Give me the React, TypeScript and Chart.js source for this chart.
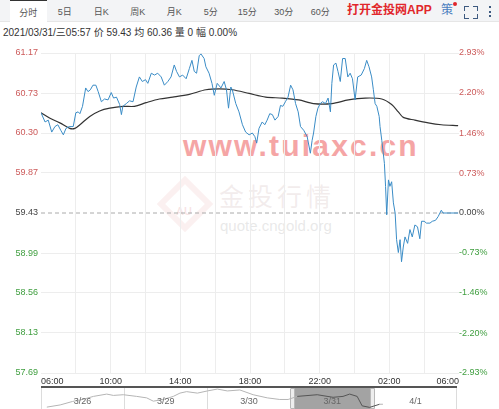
import React, { useEffect, useRef } from 'react';
import { Chart, registerables } from 'chart.js';
Chart.register(...registerables);

const FONT = '"Liberation Sans", Arial, "Noto Sans CJK SC", sans-serif';

// ---- data ----
const tabs = ['分时', '5日', '日K', '周K', '月K', '5分', '15分', '30分', '60分'];
const appText = '打开金投网APP';
const infoText = '2021/03/31/三05:57 价 59.43 均 60.36 量 0 幅 0.00%';
const prevClose = 59.43;

// minutes since 06:00
const priceTimes = [0, 14, 25, 37, 48, 58, 68, 77, 86, 97, 111, 120, 128, 134, 143, 154, 162, 170, 179, 189, 197, 208, 219, 231, 242, 250, 260, 271, 277, 282, 294, 305, 317, 328, 339, 349, 360, 368, 380, 391, 402, 414, 425, 437, 448, 459, 467, 477, 488, 500, 511, 520, 528, 536, 545, 551, 562, 568, 579, 589, 597, 607, 620, 631, 639, 646, 654, 659, 671, 682, 694, 705, 717, 728, 737, 743, 751, 762, 771, 779, 788, 797, 806, 817, 825, 833, 842, 851, 860, 868, 877, 886, 894, 905, 917, 928, 934, 939, 947, 954, 962, 970, 980, 989, 997, 1002, 1008, 1016, 1023, 1031, 1039, 1048, 1057, 1065, 1073, 1082, 1091, 1103, 1114, 1122, 1130, 1139, 1145, 1151, 1157, 1165, 1168, 1174, 1183, 1187, 1191, 1197, 1202, 1208, 1214, 1220, 1225, 1231, 1237, 1242, 1248, 1254, 1263, 1271, 1279, 1288, 1297, 1305, 1311, 1320, 1328, 1340, 1348, 1359, 1368, 1379, 1385, 1437];
const prices = [60.52, 60.42, 60.44, 60.31, 60.37, 60.39, 60.33, 60.28, 60.35, 60.37, 60.37, 60.52, 60.53, 60.51, 60.59, 60.79, 60.75, 60.77, 60.82, 60.82, 60.75, 60.64, 60.67, 60.66, 60.74, 60.68, 60.69, 60.61, 60.50, 60.59, 60.62, 60.65, 60.64, 60.80, 60.91, 60.86, 60.88, 60.84, 60.95, 60.93, 60.95, 60.91, 60.82, 60.86, 60.91, 61.04, 60.97, 60.91, 60.93, 60.89, 61.00, 61.09, 60.97, 60.95, 61.14, 61.16, 61.11, 61.02, 60.95, 60.84, 60.71, 60.84, 60.79, 60.86, 60.77, 60.57, 60.80, 60.77, 60.62, 60.53, 60.39, 60.31, 60.28, 60.30, 60.26, 60.19, 60.35, 60.42, 60.39, 60.44, 60.51, 60.50, 60.44, 60.48, 60.60, 60.59, 60.64, 60.69, 60.82, 60.77, 60.62, 60.53, 60.37, 60.33, 60.26, 60.08, 60.22, 60.30, 60.48, 60.57, 60.62, 60.64, 60.62, 60.68, 60.53, 60.84, 61.04, 61.06, 60.97, 60.86, 61.11, 61.11, 60.91, 60.95, 60.89, 60.66, 60.91, 60.93, 61.00, 61.09, 61.02, 60.91, 60.77, 60.62, 60.59, 60.48, 60.37, 60.22, 59.97, 59.72, 59.41, 59.79, 59.72, 59.77, 59.54, 59.43, 59.14, 59.00, 59.14, 58.90, 59.06, 59.17, 59.10, 59.25, 59.17, 59.30, 59.28, 59.15, 59.34, 59.34, 59.32, 59.32, 59.34, 59.35, 59.39, 59.46, 59.43, 59.43];

const avgTimes = [0, 31, 65, 99, 117, 134, 168, 202, 237, 282, 322, 362, 408, 454, 511, 568, 614, 659, 717, 774, 831, 888, 939, 1002, 1059, 1117, 1174, 1208, 1231, 1248, 1288, 1334, 1379, 1437];
const avgPrices = [60.52, 60.46, 60.41, 60.35, 60.35, 60.39, 60.48, 60.54, 60.57, 60.59, 60.59, 60.63, 60.67, 60.69, 60.72, 60.77, 60.78, 60.77, 60.73, 60.69, 60.68, 60.66, 60.62, 60.62, 60.66, 60.68, 60.67, 60.61, 60.53, 60.47, 60.44, 60.41, 60.39, 60.38];

const xTickValues = [0, 120, 240, 360, 480, 600, 720, 840, 960, 1080, 1200, 1320, 1440];
const xTickLabels = ['06:00', '', '10:00', '', '14:00', '', '18:00', '', '22:00', '', '02:00', '', '06:00'];
const yTickValues = [57.69, 58.13, 58.56, 58.99, 59.43, 59.87, 60.30, 60.73, 61.17];
const yTickLabels = ['57.69', '58.13', '58.56', '58.99', '59.43', '59.87', '60.30', '60.73', '61.17'];
const pctTickValues = [-2.93, -2.20, -1.46, -0.73, 0, 0.73, 1.46, 2.20, 2.93];
const pctTickLabels = ['-2.93%', '-2.20%', '-1.46%', '-0.73%', '0.00%', '0.73%', '1.46%', '2.20%', '2.93%'];

const navDays = ['3/26', '3/29', '3/30', '3/31', '4/1'];
const navActive = 3;
// days since 3/26 06:00
const navTimes = [0.07, 0.23, 0.38, 0.50, 0.63, 0.79, 0.87, 0.99, 1.15, 1.27, 1.35, 1.47, 1.59, 1.67, 1.75, 1.88, 2.00, 2.12, 2.24, 2.39, 2.55, 2.72, 2.87, 2.97, 3.08, 3.32, 3.51, 3.63, 3.71, 3.80, 3.86, 3.95, 4.07, 4.11];
const navPrices = [59.07, 59.38, 59.88, 60.16, 60.60, 60.93, 60.74, 60.84, 60.60, 60.39, 59.92, 60.16, 60.60, 61.07, 61.28, 61.07, 61.38, 61.65, 61.38, 61.52, 60.84, 60.39, 60.16, 60.16, 60.60, 60.84, 60.47, 60.60, 60.93, 60.60, 59.25, 59.03, 59.48, 59.48];

const RED = '#cc5a5a';
const GREEN = '#3f9e3f';
const NEUTRAL = '#444';

export default function App() {
  const mainRef = useRef<HTMLCanvasElement>(null);
  const navRef = useRef<HTMLCanvasElement>(null);

  useEffect(() => {
    const colorFor = (i: number) => (i > 4 ? RED : i < 4 ? GREEN : NEUTRAL);
    const main = new Chart(mainRef.current as HTMLCanvasElement, {
      type: 'line',
      data: {
        datasets: [
          {
            data: priceTimes.map((t, i) => ({ x: t, y: prices[i] })),
            borderColor: '#3a8cc6',
            borderWidth: 1,
            pointRadius: 0,
            tension: 0,
            order: 1,
          },
          {
            data: avgTimes.map((t, i) => ({ x: t, y: avgPrices[i] })),
            borderColor: '#333333',
            borderWidth: 1.2,
            pointRadius: 0,
            tension: 0.3,
            order: 2,
          },
          {
            data: [{ x: 0, y: prevClose }, { x: 1440, y: prevClose }],
            borderColor: '#aaaaaa',
            borderDash: [4, 3],
            borderWidth: 1,
            pointRadius: 0,
            order: 3,
          },
        ],
      },
      options: {
        animation: false,
        responsive: false,
        events: [],
        layout: { padding: { top: 13, left: 0, right: 0, bottom: 0 } },
        plugins: { legend: { display: false }, tooltip: { enabled: false } },
        scales: {
          x: {
            type: 'linear',
            min: 0,
            max: 1440,
            afterBuildTicks: (s: any) => { s.ticks = xTickValues.map((v) => ({ value: v })); },
            afterFit: (s: any) => { s.height = 15; },
            ticks: {
              autoSkip: false,
              maxRotation: 0,
              align: 'inner',
              padding: 3,
              color: '#333',
              font: { size: 9, family: FONT },
              callback: (_v: any, i: number) => xTickLabels[i],
            },
            grid: {
              drawTicks: false,
              color: (c: any) => (c.index === 0 || c.index === xTickValues.length - 1 ? 'rgba(0,0,0,0)' : '#ededed'),
            },
            border: { display: false },
          },
          y: {
            position: 'left',
            min: yTickValues[0],
            max: yTickValues[yTickValues.length - 1],
            afterBuildTicks: (s: any) => { s.ticks = yTickValues.map((v) => ({ value: v })); },
            afterFit: (s: any) => { s.width = 41; },
            ticks: {
              padding: 3,
              color: (c: any) => colorFor(c.index),
              font: { size: 9, family: FONT },
              callback: (_v: any, i: number) => yTickLabels[i],
            },
            grid: {
              drawTicks: false,
              color: (c: any) => (c.index === 4 ? 'rgba(0,0,0,0)' : '#ededed'),
            },
            border: { display: false },
          },
          y1: {
            position: 'right',
            min: pctTickValues[0],
            max: pctTickValues[pctTickValues.length - 1],
            afterBuildTicks: (s: any) => { s.ticks = pctTickValues.map((v) => ({ value: v })); },
            afterFit: (s: any) => { s.width = 40; },
            ticks: {
              padding: 0,
              color: (c: any) => colorFor(c.index),
              font: { size: 9, family: FONT },
              callback: (_v: any, i: number) => pctTickLabels[i],
            },
            grid: { display: false, drawTicks: false },
            border: { display: false },
          },
        },
      },
    } as any);

    const nav = new Chart(navRef.current as HTMLCanvasElement, {
      type: 'line',
      data: {
        datasets: [
          {
            data: navTimes.map((t, i) => ({ x: t, y: navPrices[i] })),
            borderColor: '#b5b5b5',
            borderWidth: 1,
            pointRadius: 0,
            segment: {
              borderColor: (ctx: any) =>
                ctx.p0.parsed.x >= navActive && ctx.p0.parsed.x < navActive + 1 ? '#555' : '#b5b5b5',
            },
          },
        ],
      },
      options: {
        animation: false,
        responsive: false,
        events: [],
        layout: { padding: 0 },
        plugins: { legend: { display: false }, tooltip: { enabled: false } },
        scales: {
          x: { type: 'linear', min: 0, max: navDays.length, display: false },
          y: { min: 58.8, max: 61.8, display: false },
        },
      },
    } as any);

    return () => {
      main.destroy();
      nav.destroy();
    };
  }, []);

  const navLeft = 41;
  const navWidth = 416;
  const secW = navWidth / navDays.length;

  return (
    <div
      style={{
        position: 'absolute',
        left: 0,
        top: 0,
        width: 499,
        height: 409,
        background: '#fff',
        overflow: 'hidden',
        fontFamily: FONT,
      }}
    >
      {/* toolbar */}
      <div style={{ position: 'absolute', left: 0, top: 0, width: 499, height: 21, background: '#f3f4f6', borderBottom: '1px solid #e6e6e6' }} />
      {tabs.map((t, i) => (
        <div
          key={t}
          style={{
            position: 'absolute',
            left: 10 + i * 36.5,
            top: 0,
            width: 36.5,
            height: i === 0 ? 22 : 21,
            lineHeight: '24px',
            textAlign: 'center',
            fontSize: 9,
            color: '#555',
            background: i === 0 ? '#fff' : 'transparent',
            borderTop: i === 0 ? '1px solid #333' : 'none',
            boxSizing: 'border-box',
          }}
        >
          {t}
        </div>
      ))}
      <div style={{ position: 'absolute', left: 347, top: 3, fontSize: 12, fontWeight: 'bold', color: '#e1262b', lineHeight: '15px', whiteSpace: 'nowrap' }}>
        {appText}
      </div>
      <div style={{ position: 'absolute', left: 441, top: 3, fontSize: 12, color: '#4b7fc0', lineHeight: '15px' }}>策</div>
      <div style={{ position: 'absolute', left: 453, top: 2, width: 4, height: 4, borderRadius: 2, background: '#e1262b' }} />
      {/* fullscreen icon */}
      {[
        { l: 464, t: 6, bt: 1, bl: 1 },
        { l: 473, t: 6, bt: 1, br: 1 },
        { l: 464, t: 14, bb: 1, bl: 1 },
        { l: 473, t: 14, bb: 1, br: 1 },
      ].map((c: any, i) => (
        <div
          key={i}
          style={{
            position: 'absolute',
            left: c.l,
            top: c.t,
            width: 4,
            height: 4,
            borderTop: c.bt ? '1.5px solid #3d5a80' : 'none',
            borderBottom: c.bb ? '1.5px solid #3d5a80' : 'none',
            borderLeft: c.bl ? '1.5px solid #3d5a80' : 'none',
            borderRight: c.br ? '1.5px solid #3d5a80' : 'none',
          }}
        />
      ))}
      {[6, 10.5, 15].map((y) => (
        <div key={y} style={{ position: 'absolute', left: 489, top: y, width: 2, height: 2, background: '#3d5a80' }} />
      ))}

      {/* info line */}
      <div style={{ position: 'absolute', left: 3, top: 27, fontSize: 10, color: '#333', lineHeight: '12px', whiteSpace: 'pre' }}>
        {infoText}
      </div>

      {/* watermarks */}
      <div style={{ position: 'absolute', left: 165, top: 184, width: 40, height: 40, transform: 'rotate(45deg)', border: '6px solid rgba(235,170,170,0.18)', boxSizing: 'border-box' }} />
      <div style={{ position: 'absolute', left: 176, top: 205, fontSize: 11, fontWeight: 'bold', color: 'rgba(225,150,150,0.25)' }}>AU</div>
      <div style={{ position: 'absolute', left: 219, top: 180, fontSize: 25, letterSpacing: 4, color: 'rgba(200,170,170,0.22)', lineHeight: '30px', fontFamily: '"Noto Sans CJK SC", sans-serif' }}>
        金投行情
      </div>
      <div style={{ position: 'absolute', left: 220, top: 217, fontSize: 15, color: 'rgba(190,190,190,0.35)', lineHeight: '18px' }}>quote.cngold.org</div>
      <div style={{ position: 'absolute', left: 183, top: 131, fontSize: 30, fontWeight: 'bold', letterSpacing: 2.2, color: '#f5a5a5', lineHeight: '30px', whiteSpace: 'nowrap' }}>
        www.tuiaxc.cn
      </div>

      {/* main chart */}
      <canvas ref={mainRef} width={499} height={348} style={{ position: 'absolute', left: 0, top: 40, width: 499, height: 348 }} />

      {/* navigator */}
      <div style={{ position: 'absolute', left: navLeft, top: 386, width: navWidth, height: 2, background: '#555' }} />
      {navDays.map((d, i) => (
        <div
          key={d}
          style={{
            position: 'absolute',
            left: navLeft + i * secW,
            top: 388,
            width: secW,
            height: 21,
            boxSizing: 'border-box',
            borderLeft: '1px solid #dcdcdc',
            borderRight: i === navDays.length - 1 ? '1px solid #dcdcdc' : 'none',
            background: i === navActive ? '#a3a3a3' : 'transparent',
          }}
        />
      ))}
      {[navLeft + navActive * secW - 1, navLeft + (navActive + 1) * secW - 4].map((x, i) => (
        <div
          key={i}
          style={{ position: 'absolute', left: x, top: 388, width: 5, height: 21, background: '#eeeeee', border: '1px solid #b8b8b8', boxSizing: 'border-box', borderRadius: 1 }}
        />
      ))}
      <canvas ref={navRef} width={navWidth} height={21} style={{ position: 'absolute', left: navLeft, top: 388, width: navWidth, height: 21 }} />
      {navDays.map((d, i) => (
        <div
          key={'l' + d}
          style={{ position: 'absolute', left: navLeft + i * secW, top: 395, width: secW, textAlign: 'center', fontSize: 9, color: '#666', lineHeight: '12px' }}
        >
          {d}
        </div>
      ))}
    </div>
  );
}
